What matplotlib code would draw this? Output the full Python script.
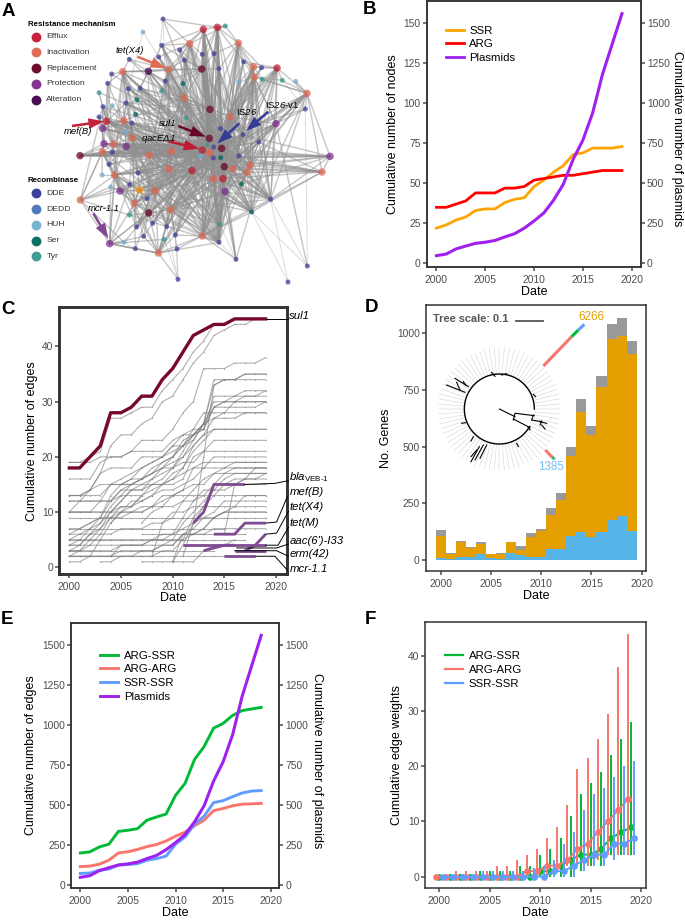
# Plasmid network figure, panels A-F
import numpy as np
import matplotlib
matplotlib.use("Agg")
import matplotlib.pyplot as plt
from matplotlib.patches import FancyArrowPatch

plt.rcParams['font.family'] = ['Liberation Sans', 'DejaVu Sans']
plt.rcParams['mathtext.fontset'] = 'custom'
plt.rcParams['mathtext.rm'] = 'Liberation Sans:italic'
plt.rcParams['mathtext.sf'] = 'Liberation Sans'
plt.rcParams['mathtext.it'] = 'Liberation Sans:italic'

FIG_W, FIG_H = 685, 924

years = list(range(2000, 2020))
tick_years = [2000, 2005, 2010, 2015, 2020]

# Panel B
nodes_ssr = [22, 24, 27, 29, 33, 34, 34, 38, 40, 41, 48, 52, 57, 61, 68, 69, 72, 72, 72, 73]
nodes_arg = [35, 35, 37, 39, 44, 44, 44, 47, 47, 48, 52, 53, 54, 55, 55, 56, 57, 58, 58, 58]
plasmids = [48, 58, 90, 108, 125, 132, 143, 165, 185, 220, 265, 315, 395, 495, 650, 770, 940, 1180, 1370, 1560]

# Panel D
genes_blue = [8, 5, 12, 13, 28, 8, 5, 32, 22, 15, 14, 50, 50, 104, 122, 103, 122, 176, 193, 130]
genes_orange_top = [105, 28, 78, 55, 72, 28, 28, 78, 45, 102, 128, 198, 263, 458, 655, 552, 763, 975, 990, 907]
genes_total = [132, 30, 85, 58, 78, 28, 30, 80, 60, 120, 138, 228, 295, 498, 710, 592, 810, 1040, 1068, 967]

# Panel E
edges_arg_ssr = [200, 207, 238, 255, 335, 342, 352, 405, 425, 443, 560, 635, 785, 865, 980, 1010, 1060, 1090, 1100, 1110]
edges_arg_arg = [115, 118, 130, 155, 200, 208, 222, 240, 253, 275, 305, 330, 370, 405, 465, 478, 495, 505, 507, 510]
edges_ssr_ssr = [72, 75, 92, 100, 125, 128, 133, 155, 165, 180, 255, 300, 380, 430, 515, 527, 552, 575, 587, 590]

# Panel F: median, low and high of the edge weights
w_arg_ssr = [0, 0, 0, 0, 0, 0, 0, 0, 0, 0, 1, 1, 2, 3, 4, 4, 5, 7, 8, 9]
w_arg_ssr_hi = [0, 0.5, 0.5, 0.5, 1, 1, 1, 1, 2, 2, 4, 5, 7, 11, 15, 17, 19, 22, 25, 28]
w_arg_ssr_lo = [0, 0, 0, 0, 0, 0, 0, 0, 0, 0, 0, 0, 0, 0, 1, 2, 2, 4, 4, 4]
w_arg_arg = [0, 0, 0, 0, 0, 0, 0, 0, 0, 1, 1, 2, 2, 3, 5, 6, 8, 10, 12, 14]
w_arg_arg_hi = [0, 0.5, 1, 1, 1, 1, 2, 2, 3, 4, 5, 7, 9, 13, 19.5, 21.5, 25, 29.5, 38, 44]
w_arg_arg_lo = [0, 0, 0, 0, 0, 0, 0, 0, 0, 0, 0, 0, 1, 2, 2, 2, 3, 4, 4, 4]
w_ssr_ssr = [0, 0, 0, 0, 0, 0, 0, 0, 0, 0, 0, 1, 1, 2, 3, 4, 4, 6, 6, 7]
w_ssr_ssr_hi = [0, 0, 0.5, 0.5, 1, 1, 1, 1, 1, 1.5, 2, 3, 6, 8, 12, 15, 16, 18, 20, 21]
w_ssr_ssr_lo = [0, 0, 0, 0, 0, 0, 0, 0, 0, 0, 0, 0, 0, 0, 1, 2, 2, 3, 4, 4]

# Panel C: highlighted genes as (first year, values)
sul1_edges = (2000, [18, 18, 20, 22, 28, 28, 29, 31, 31, 34, 36, 39, 42, 43, 44, 44, 45, 45, 45, 45])
purple_edges = [
    (2012, [8, 10, 15, 15, 15, 15]),
    (2014, [6, 6, 6, 8, 8, 8]),
    (2017, [3, 4, 6]),
    (2011, [4, 4, 4, 4, 4, 4, 4, 4, 4]),
    (2013, [3, 3.5, 4, 4]),
    (2016, [3, 3, 3, 3]),
    (2015, [2, 2, 2, 2]),
]
# Panel C: grey genes as (first year, values)
grey_edges = [
    (2000, [19, 19, 20, 21, 27, 27, 28, 29, 29, 32, 34, 36, 39, 41, 44, 44, 45, 45, 45, 45]),
    (2000, [13, 13, 14, 17, 22, 24, 24, 26, 27, 30, 31, 34, 37, 39, 42, 43, 44, 44, 45, 45]),
    (2000, [19, 19, 19, 20, 20, 20, 21, 23, 23, 23, 25, 28, 30, 36, 36, 36, 37, 37, 37, 38]),
    (2000, [16, 16, 16, 19, 20, 20, 21, 21, 21, 21, 23, 24, 24, 26, 33, 34, 34, 35, 35, 35]),
    (2000, [13, 13, 14, 17, 18, 18, 18, 20, 20, 20, 22, 22, 23, 26, 34, 34, 34, 34, 34, 34]),
    (2000, [10, 12, 14, 15, 15, 15, 16, 16, 17, 19, 20, 22, 24, 25, 31, 31, 31, 31, 31, 32]),
    (2000, [10, 10, 10, 12, 15, 16, 17, 18, 19, 20, 22, 24, 25, 25, 29, 30, 31, 32, 32, 32]),
    (2000, [6, 7, 8, 9, 13, 15, 16, 18, 19, 20, 21, 22, 24, 26, 30, 30, 30, 31, 31, 31]),
    (2000, [5, 6, 7, 8, 10, 12, 14, 15, 16, 18, 19, 20, 23, 26, 29, 30, 30, 30, 30, 30]),
    (2000, [4, 5, 7, 9, 12, 14, 15, 16, 17, 18, 20, 23, 24, 25, 29, 29, 29, 29, 29, 30]),
    (2000, [3, 4, 6, 8, 11, 13, 15, 16, 18, 19, 20, 22, 25, 28, 28, 28, 28, 28, 28, 28]),
    (2000, [3, 3, 5, 7, 10, 12, 14, 14, 16, 17, 18, 21, 24, 26, 27, 27, 27, 28, 28, 28]),
    (2000, [2, 3, 4, 6, 9, 10, 11, 13, 15, 16, 18, 20, 22, 24, 25, 25, 25, 25, 25, 25]),
    (2000, [2, 2, 2, 5, 8, 10, 12, 12, 13, 15, 16, 18, 21, 23, 25, 25, 25, 25, 25, 25]),
    (2000, [12, 12, 12, 12, 12, 14, 14, 14, 15, 15, 15, 16, 20, 21, 21, 21, 21, 21, 21, 21]),
    (2000, [10, 10, 10, 10, 10, 11, 11, 12, 13, 14, 14, 15, 16, 18, 20, 20, 20, 20, 20, 20]),
    (2000, [13, 13, 13, 13, 15, 15, 15, 15, 15, 15, 16, 17, 18, 19, 19, 19, 19, 19, 19, 19]),
    (2000, [7, 7, 8, 9, 9, 9, 10, 10, 11, 12, 13, 14, 18, 18, 18, 18, 18, 18, 18, 18]),
    (2000, [6, 6, 6, 6, 6, 7, 7, 7, 8, 8, 9, 12, 14, 16, 17, 18, 19, 19, 19, 19]),
    (2000, [5, 5, 5, 5, 5, 5, 5, 5, 5, 6, 6, 9, 12, 13, 15, 17, 18, 18, 18, 18]),
    (2000, [3, 3, 3, 3, 3, 4, 4, 4, 5, 5, 5, 8, 10, 12, 14, 16, 17, 17, 17, 17]),
    (2010, [1, 4, 8, 11, 15, 15, 16, 16, 16, 17]),
    (2000, [1, 1, 2, 2, 2, 2, 2, 2, 2, 3, 3, 5, 9, 11, 13, 15, 15, 16, 16, 16]),
    (2000, [2, 2, 2, 2, 2, 3, 3, 3, 3, 4, 4, 6, 6, 7, 9, 10, 11, 13, 13, 13]),
    (2000, [4, 4, 4, 4, 4, 4, 4, 4, 5, 5, 6, 7, 8, 9, 10, 12, 12, 12, 12, 12]),
    (2008, [2, 8, 10, 10, 11, 11, 11, 11, 11, 11, 11, 11]),
    (2000, [12, 12, 12, 12, 12, 13, 13, 13]),
    (2000, [10, 10, 10, 10, 10, 10, 10, 10, 11, 13, 13, 13, 13, 13, 13, 13, 13, 13, 13, 13]),
    (2000, [7, 7, 7, 7, 7, 7, 7, 7, 7, 7, 7, 7, 7, 7, 7, 7]),
    (2000, [5, 5, 5, 5, 5, 5, 5, 5, 5, 5, 5, 5, 5, 5, 5, 5, 5, 5]),
    (2007, [6, 6, 6, 6, 6, 6, 6, 6, 6, 6, 6]),
    (2007, [1, 1, 1, 1, 1, 1, 3, 4, 4, 5]),
    (2000, [2, 2, 2, 2, 2, 2, 2, 2, 2, 2, 2, 2, 2, 2, 2, 2]),
    (2000, [3, 3, 3, 3, 3, 3, 3, 3, 3, 3, 3, 3, 3, 3, 3]),
    (2014, [6, 6, 15, 16, 18, 18]),
    (2011, [2, 8, 20, 33, 34, 34, 35, 35, 35]),
    (2003, [1, 1, 2, 2, 3, 3, 4, 4, 6, 6, 6, 7, 7, 7, 7, 7, 7]),
    (2004, [2, 4, 4, 4, 4, 4, 5, 5, 6, 7, 9, 10, 10, 10, 10, 10]),
    (2010, [1, 6, 7, 9, 9, 10, 10, 10, 10, 10]),
    (2004, [8, 10, 10, 11, 11, 11, 11, 12, 12, 14, 14, 14, 15, 15, 15, 15]),
    (2000, [9, 9, 9, 9, 9, 9, 9, 9, 9, 9, 9, 9, 9, 9, 9, 9, 9, 9, 9, 9]),
    (2000, [4, 4, 6, 7, 9, 11, 11, 13, 14, 15, 17, 18, 22, 24, 27, 28, 30, 30, 30, 30]),
    (2005, [15, 15, 16, 17, 18, 18, 19, 19, 21, 23, 23, 23, 23, 23, 23]),
    (2007, [8, 10, 11, 13, 14, 15, 15, 17, 17, 17, 17, 17, 17]),
]

# Panel A: node layout
arg_x = [610, 652, 831, 320, 607, 576, 669, 569, 715, 760, 763, 506, 368, 921, 553, 691, 371, 397, 340, 307, 448, 514, 629, 507, 344, 465, 403, 512, 241, 607, 475, 966, 750, 741, 698, 641, 605, 630, 628, 665, 673, 446, 240, 990, 379, 675, 828, 329, 308, 312, 360, 445, 418]
arg_y = [88, 82, 204, 364, 450, 512, 536, 131, 129, 200, 231, 208, 215, 280, 294, 350, 362, 414, 432, 456, 465, 454, 458, 507, 525, 572, 610, 629, 600, 708, 759, 516, 496, 517, 506, 536, 207, 328, 415, 445, 500, 639, 467, 469, 440, 575, 371, 731, 385, 431, 573, 214, 570]
arg_kind = ['E'] * 7 + ['I'] * 29 + ['R'] * 7 + ['P'] * 8 + ['A', 'O']
ssr_x = [489, 485, 539, 476, 388, 607, 642, 553, 731, 657, 785, 335, 496, 323, 385, 420, 378, 309, 297, 396, 916, 729, 777, 641, 662, 640, 717, 337, 327, 414, 389, 441, 812, 458, 410, 431, 500, 526, 531, 406, 657, 708, 922, 864, 534, 429, 337, 718, 887, 376, 601, 306, 332, 372, 549, 411, 407, 662, 725, 755, 676, 297, 485, 558, 622, 787, 847, 388, 659, 493]
ssr_y = [57, 136, 150, 171, 178, 163, 161, 180, 185, 206, 203, 222, 243, 250, 266, 265, 309, 320, 351, 369, 327, 404, 426, 441, 386, 474, 468, 457, 493, 519, 553, 596, 598, 670, 681, 709, 680, 705, 747, 746, 727, 778, 798, 846, 838, 96, 317, 246, 244, 394, 469, 525, 561, 727, 251, 299, 343, 473, 552, 636, 78, 278, 272, 354, 434, 238, 241, 645, 673, 718]
ssr_kind = ['D'] * 45 + ['H'] * 9 + ['S'] * 6 + ['T'] * 10

# ssr nodes linked to each arg node, same order as arg_x
arg_links = [
    [1, 5, 6, 9, 23, 21, 24, 25, 57, 64, 60, 40, 2, 68],
    [5, 6, 60, 9, 23, 24, 25, 57, 21, 50, 68, 40, 64, 8, 0],
    [8, 10, 65, 66, 21, 23, 24, 57, 32, 59, 22, 26],
    [11, 13, 16, 17, 18, 19, 23, 24, 25, 27, 57, 64, 61, 49, 58],
    [1, 3, 5, 9, 14, 16, 21, 23, 24, 26, 28, 29, 31, 32, 33, 36, 40, 59, 64, 68, 57, 22, 12, 19],
    [2, 7, 12, 15, 21, 23, 25, 26, 32, 34, 37, 40, 57, 59, 64, 68, 29],
    [5, 8, 21, 22, 23, 24, 32, 40, 41, 57, 59, 64, 65, 68, 12, 55],
    [1, 2, 3, 5, 7, 23, 24, 25, 57, 21, 12, 40, 0, 60],
    [6, 8, 9, 60, 21, 23, 24, 57, 26, 10, 68, 32],
    [8, 10, 21, 22, 23, 24, 25, 57, 47, 65, 59, 32],
    [8, 10, 47, 21, 22, 23, 25, 57, 58, 66, 32, 40],
    [1, 3, 4, 7, 12, 62, 23, 25, 57, 64, 31, 36, 40],
    [4, 11, 13, 14, 15, 16, 23, 25, 64, 57, 29, 40],
    [20, 21, 22, 48, 66, 65, 32, 59, 26, 25, 57, 64],
    [3, 7, 12, 15, 16, 23, 24, 25, 29, 32, 36, 40, 54, 62, 59],
    [8, 9, 21, 22, 23, 24, 26, 32, 40, 47, 58, 59, 68, 37],
    [13, 14, 16, 17, 19, 46, 23, 25, 57, 27, 29, 36, 40, 64],
    [14, 16, 19, 28, 29, 30, 23, 25, 57, 40, 36, 31, 64, 68],
    [13, 17, 18, 27, 28, 23, 25, 57, 64, 19, 59, 40],
    [17, 27, 28, 51, 23, 25, 50, 57, 64, 40, 30],
    [15, 19, 29, 31, 23, 25, 57, 40, 36, 12, 59, 68, 21],
    [7, 12, 16, 23, 25, 29, 31, 36, 40, 57, 59, 68, 21, 32, 34],
    [1, 3, 5, 7, 9, 14, 16, 21, 24, 26, 32, 36, 40, 59, 68, 37, 29, 15, 12, 33],
    [15, 19, 29, 30, 31, 34, 23, 25, 57, 40, 59, 68, 21],
    [28, 30, 51, 52, 29, 23, 25, 57, 40, 64, 34],
    [29, 30, 31, 33, 34, 36, 23, 25, 57, 40, 68, 59, 21],
    [30, 31, 34, 35, 39, 23, 25, 57, 64, 40, 67, 19],
    [33, 36, 37, 38, 40, 68, 23, 25, 57, 64, 21, 32],
    [52, 17, 40, 30, 53],
    [37, 38, 40, 41, 68, 23, 25, 57, 64, 21, 32, 59],
    [35, 36, 37, 38, 69, 39, 23, 25, 57, 40, 44],
    [26, 57, 25, 32, 21, 59],
    [21, 22, 26, 32, 58, 59, 23, 25, 57, 9, 47],
    [21, 22, 26, 32, 58, 59, 23, 25, 57, 40, 68],
    [21, 22, 24, 26, 32, 40, 58, 59, 68, 9, 1],
    [5, 15, 21, 23, 25, 32, 37, 40, 59, 68, 29, 34],
    [2, 5, 6, 7, 9, 1, 23, 24, 25, 57, 21, 40, 12, 54],
    [2, 7, 9, 14, 15, 16, 21, 24, 26, 32, 40, 54, 56, 63, 59, 68, 29],
    [0, 1, 2, 3, 4, 5, 6, 7, 8, 9, 10, 11, 12, 13, 14, 15, 16, 17, 18, 19, 20, 26, 27, 28, 29, 30, 31, 32, 33, 34, 35, 36, 37, 40, 41, 59, 61, 65, 67, 68],
    [1, 5, 8, 10, 12, 14, 21, 22, 24, 26, 32, 40, 41, 47, 59, 68, 29, 36, 16],
    [7, 9, 21, 22, 24, 26, 32, 37, 40, 58, 59, 68, 15],
    [31, 33, 34, 35, 36, 39, 67, 23, 25, 57, 53],
    [27, 23, 25, 50, 57, 64],
    [26, 57, 25, 21, 32, 58],
    [17, 19, 27, 49, 23, 25, 57, 64, 40, 29],
    [21, 23, 25, 32, 40, 41, 57, 59, 68, 26],
    [20, 21, 22, 26, 32, 59, 41, 42, 25, 57],
    [30, 35, 39, 53, 52, 69],
    [18, 19, 46, 17, 23, 25, 57],
    [18, 27, 13, 23, 25, 57, 64],
    [28, 30, 52, 31, 23, 57],
    [1, 4, 12, 15, 23, 25, 57, 64, 40],
    [29, 30, 31, 23, 25, 57],
]
# arg nodes linked to each arg node
arg_peers = [
    [7, 36, 14, 38, 22, 35, 29, 6], [8, 36, 37, 15, 39, 40, 6, 45], [9, 13, 46, 15, 39, 34, 33],
    [16, 48, 18, 20, 17, 4, 21, 5], [14, 20, 21, 23, 25, 27, 29, 35, 37], [20, 23, 25, 27, 29, 41, 37, 14, 45],
    [29, 45, 40, 34, 33, 15, 37, 27], [11, 36, 14, 37, 21, 23, 5], [9, 10, 15, 37, 39, 40, 34],
    [10, 15, 39, 40, 33, 32, 22], [13, 46, 15, 39, 34, 32, 35], [51, 12, 14, 20, 21, 23, 25, 4],
    [51, 16, 17, 20, 18, 24, 25, 23, 14], [46, 32, 33, 34, 39, 31, 43], [37, 15, 21, 20, 23, 35, 5, 16, 27],
    [37, 39, 40, 34, 35, 6, 22, 45], [17, 18, 44, 20, 21, 24, 25, 23, 4], [18, 44, 20, 21, 23, 25, 26, 5],
    [19, 49, 42, 24, 20, 21, 25, 50], [49, 42, 24, 50, 20, 23, 26, 28], [21, 23, 25, 26, 27, 41, 5, 4, 22],
    [23, 25, 5, 27, 4, 22, 35, 41], [39, 40, 35, 6, 34, 5, 23, 45, 27], [25, 5, 27, 41, 35, 29, 26, 24],
    [50, 26, 41, 25, 52, 47, 30], [26, 52, 41, 27, 5, 35, 29, 30], [41, 52, 27, 30, 47, 50], [41, 29, 30, 35, 6, 45],
    [47, 24, 50, 19], [30, 45, 35, 6, 41], [41, 27, 47], [43, 33, 32, 34, 40, 6, 22], [33, 34, 40, 39, 45, 46],
    [34, 40, 6, 45, 35], [40, 6, 39, 35, 45, 22], [6, 45, 40, 5, 27, 29], [37, 14, 15, 38, 39, 51, 11],
    [38, 39, 22, 4, 21, 14, 40], [39, 22, 4, 40, 21, 5], [40, 22, 4, 34, 46], [6, 45, 35, 5], [52, 26, 27, 47],
    [19, 49, 4, 22, 21, 20, 39], [39, 22, 4, 40, 34], [20, 21, 24, 25, 4, 5], [6, 29, 27, 35], [15, 39, 40, 34, 10],
    [41, 30, 24], [49, 16, 17, 18, 20, 4], [18, 19, 44, 21, 20, 4], [24, 26, 52, 25, 23], [12, 14, 16, 20, 37, 21],
    [25, 26, 23, 41],
]
# extra links between ssr nodes
ssr_links = [(0, 12), (0, 3), (45, 14), (45, 3), (41, 68), (41, 40), (43, 59), (42, 59), (44, 38), (44, 37), (44, 36), (44, 69), (20, 48), (20, 66), (18, 17), (61, 17), (53, 39), (67, 31), (32, 59), (32, 68), (40, 68), (22, 21), (43, 32), (42, 32), (42, 20)]

legend_mech = ['Efflux', 'Inactivation', 'Replacement', 'Protection', 'Alteration']
legend_mech_colors = ['#c2152f', '#e0654f', '#67001f', '#7b2a8c', '#40004b']
legend_rec = ['DDE', 'DEDD', 'HUH', 'Ser', 'Tyr']
legend_rec_colors = ['#313695', '#4575b4', '#74add1', '#00665e', '#35978f']
arg_colors = {'E': '#c2152f', 'I': '#e0654f', 'R': '#67001f', 'P': '#7b2a8c', 'A': '#40004b', 'O': '#f58a0b'}
ssr_colors = {'D': '#3d4199', 'H': '#74add1', 'S': '#00665e', 'T': '#35978f'}

# (label, text x, text y, tail x, tail y, head x, head y, colour)
gene_arrows = [
    ('tet(X4)', 388, 152, 412, 170, 498, 205, '#e0654f'),
    ('mef(B)', 233, 396, 216, 378, 312, 364, '#c2152f'),
    ('sul1', 503, 371, 535, 378, 617, 410, '#67001f'),
    (r'$\mathrm{qacE}$Δ1', 475, 418, 505, 424, 598, 446, '#c2152f'),
    (r'IS$\mathrm{26}$', 740, 337, 718, 370, 652, 431, '#313695'),
    (r'IS$\mathrm{26}$-v1', 846, 315, 805, 335, 738, 393, '#313695'),
    ('mcr-1.1', 311, 625, 280, 640, 325, 716, '#7b3f8c'),
]

# Panel D tree inset, (x0, y0, x1, y1)
TREE_CENTER = (463, 342)
TREE_TIPS = 76
tree_branches = [
    (463, 342, 510, 365), (510, 355, 505, 375), (512, 355, 568, 362), (505, 372, 555, 398),
    (565, 360, 560, 375), (560, 375, 590, 380), (590, 378, 585, 390), (585, 380, 605, 385),
    (590, 390, 600, 402), (548, 395, 555, 405), (360, 292, 305, 270), (345, 285, 335, 262),
    (330, 250, 370, 275), (355, 260, 362, 270), (378, 500, 403, 455), (390, 495, 415, 450),
    (378, 485, 395, 465), (405, 490, 425, 450), (565, 298, 572, 305), (385, 425, 378, 438),
    (440, 232, 450, 244), (350, 385, 362, 383), (515, 445, 520, 455), (470, 240, 485, 236),
]
long_bars = [
    (595, 213, 680, 125, '#f8766d'), (680, 125, 700, 105, '#00ba38'), (700, 105, 718, 88, '#619cff'),
    (601, 465, 622, 487, '#f8766d'), (622, 487, 626, 490, '#00ba38'), (626, 490, 630, 493, '#619cff'),
]


def px_axes(left, top, right, bottom):
    # axes placed by picture pixels
    ax = plt.gcf().add_axes([left / FIG_W, 1 - bottom / FIG_H, (right - left) / FIG_W, (bottom - top) / FIG_H])
    ax.px_box = (left, top, right, bottom)
    return ax


def style_axes(ax, ylabel, ylabel_x, date_y, frame=1.1, xlim=None, ylim=None):
    left, top, right, bottom = ax.px_box
    ax.set_xlim(xlim)
    ax.set_ylim(ylim)
    ax.set_xticks(tick_years)
    for side in ax.spines.values():
        side.set_linewidth(frame)
        side.set_color('#333333')
    ax.tick_params(colors='#4d4d4d', labelsize=7.4, width=1.1, length=2.6, pad=1.6)
    ax.tick_params(axis='x', pad=3.2)
    ax.set_xlabel('Date', fontsize=9, va='center')
    ax.xaxis.set_label_coords(0.5, -(date_y - bottom) / (bottom - top))
    ax.set_ylabel(ylabel, fontsize=9, va='center')
    ax.yaxis.set_label_coords((ylabel_x - left) / (right - left), 0.5)


def add_plasmid_axis(ax, ylim, label_x):
    left, top, right, bottom = ax.px_box
    twin = ax.twinx()
    twin.set_ylim(ylim)
    twin.set_yticks([0, 250, 500, 750, 1000, 1250, 1500])
    twin.tick_params(colors='#4d4d4d', labelsize=7.4, width=1.1, length=2.6, pad=1.6)
    twin.set_ylabel('Cumulative number of plasmids', fontsize=9, rotation=270, va='center')
    twin.yaxis.set_label_coords((label_x - left) / (right - left), 0.48)
    for side in twin.spines.values():
        side.set_linewidth(1.1)
        side.set_color('#333333')
    return twin


def line_legend(ax, handles, anchor):
    ax.legend(handles=handles, loc='upper left', bbox_to_anchor=anchor, frameon=False, fontsize=8.2,
              handlelength=1.6, handletextpad=0.5, labelspacing=0.33, borderpad=0, borderaxespad=0)


fig = plt.figure(figsize=(FIG_W / 100, FIG_H / 100), dpi=100)

# Panel A: network, coordinates are 3x picture pixels
ax_a = px_axes(0, 0, 345, 295)
ax_a.set_xlim(0, 1035)
ax_a.set_ylim(885, 0)
ax_a.axis('off')
for a, links in enumerate(arg_links):
    for s in links:
        ax_a.plot([arg_x[a], ssr_x[s]], [arg_y[a], ssr_y[s]], color='#8f8f8f', lw=1.0, alpha=0.5, zorder=1)
for a, peers in enumerate(arg_peers):
    for b in peers:
        ax_a.plot([arg_x[a], arg_x[b]], [arg_y[a], arg_y[b]], color='#8f8f8f', lw=1.0, alpha=0.5, zorder=1)
for s0, s1 in ssr_links:
    ax_a.plot([ssr_x[s0], ssr_x[s1]], [ssr_y[s0], ssr_y[s1]], color='#8f8f8f', lw=0.7, alpha=0.32, zorder=1)
ax_a.scatter(ssr_x, ssr_y, s=13, c=[ssr_colors[k] for k in ssr_kind], alpha=0.75, linewidths=0, zorder=2)
ax_a.scatter(arg_x, arg_y, s=29, c=[arg_colors[k] for k in arg_kind], alpha=0.72, linewidths=0, zorder=3)
ax_a.text(83, 74, 'Resistance mechanism', fontsize=5.7, fontweight='bold', va='center')
for i, label in enumerate(legend_mech):
    ax_a.scatter(108, 110 + i * 47.2, s=50, c=legend_mech_colors[i], alpha=0.95, linewidths=0)
    ax_a.text(138, 110 + i * 47.2, label, fontsize=6.1, color='#333333', va='center')
ax_a.text(83, 541, 'Recombinase', fontsize=5.7, fontweight='bold', va='center')
for i, label in enumerate(legend_rec):
    ax_a.scatter(108, 580 + i * 47.2, s=50, c=legend_rec_colors[i], alpha=0.95, linewidths=0)
    ax_a.text(140, 580 + i * 47.2, label, fontsize=6.1, color='#333333', va='center')
for label, tx, ty, x0, y0, x1, y1, color in gene_arrows:
    style = 'normal' if label.startswith('IS') else 'italic'
    ax_a.text(tx, ty, label, fontsize=6.8, style=style, ha='center', va='center', zorder=6)
    ax_a.add_patch(FancyArrowPatch((x0, y0), (x1, y1), arrowstyle='simple,tail_width=0.13,head_width=0.55,head_length=0.8',
                                   mutation_scale=14, color=color, lw=0, alpha=0.95, shrinkA=0, shrinkB=0, zorder=5))

# Panel B
ax_b = px_axes(426.7, 1, 641, 266.7)
ax_b.plot(years, nodes_ssr, color='#ffa500', lw=2, solid_joinstyle='round')
ax_b.plot(years, nodes_arg, color='#ff0000', lw=2)
style_axes(ax_b, 'Cumulative number of nodes', 393, 292, xlim=(1999.0, 2020.95), ylim=(-2.1, 163.9))
ax_b.set_yticks([0, 25, 50, 75, 100, 125, 150])
right_b = add_plasmid_axis(ax_b, (-21, 1639), 677)
right_b.plot(years, plasmids, color='#a020f0', lw=2.2)
line_legend(ax_b, [
    plt.Line2D([], [], color='#ffa500', lw=2, label='SSR'),
    plt.Line2D([], [], color='#ff0000', lw=2, label='ARG'),
    plt.Line2D([], [], color='#a020f0', lw=2, label='Plasmids')], (0.088, 0.907))

# Panel C
ax_c = px_axes(59, 307.3, 286.7, 574.3)
for first, values in grey_edges:
    xs = np.arange(first, first + len(values))
    ax_c.plot(xs, values, color='#7c7c7c', lw=0.8, alpha=0.6, marker='o', ms=0.9, mew=0, zorder=2)
for first, values in purple_edges:
    ax_c.plot(np.arange(first, first + len(values)), values, color='#7f4a8f', lw=2, zorder=3, solid_capstyle='butt')
ax_c.plot(np.arange(sul1_edges[0], sul1_edges[0] + len(sul1_edges[1])), sul1_edges[1], color='#76092b', lw=2.4, zorder=4)
style_axes(ax_c, 'Cumulative number of edges', 32, 598, frame=2.1, xlim=(1999.0, 2021.04), ylim=(-1.27, 47.1))
ax_c.set_yticks([0, 10, 20, 30, 40])
leader_labels = ['sul1', '$\\mathrm{bla}_{\\mathsf{VEB\u20101}}$', 'mef(B)', 'tet(X4)', 'tet(M)', "aac(6')-I33", 'erm(42)', 'mcr-1.1']
leader_x = [[2019, 2021.2], [2017, 2019.9, 2021.2], [2019, 2020.06, 2021.1], [2019, 2020.06, 2021.2], [2019, 2020.2, 2021.2],
            [2016.2, 2020.06, 2021.2], [2016, 2020.06, 2021.2], [2018, 2019.9, 2021.1]]
leader_y = [[45, 45], [15, 15.2, 15.7], [8, 8.2, 12.8], [6, 6.2, 10.1], [4, 4, 7.2], [3.5, 3.5, 4.2], [3, 3, 2], [2, 2, -0.5]]
label_y = [45.6, 16.25, 13.6, 10.9, 8, 4.8, 2.4, -0.3]
for label, lx, ly, ty in zip(leader_labels, leader_x, leader_y, label_y):
    ax_c.plot(lx, ly, color='black', lw=0.7, clip_on=False, zorder=5)
    ax_c.text(2021.3, ty, label, fontsize=8.2, style='italic', va='center', clip_on=False)

# Panel D
ax_d = px_axes(425.7, 305, 646, 571)
ax_d.bar(years, genes_blue, width=1, color='#56b4e9')
ax_d.bar(years, np.array(genes_orange_top) - np.array(genes_blue), width=1, bottom=genes_blue, color='#e69f00')
ax_d.bar(years, np.array(genes_total) - np.array(genes_orange_top), width=1, bottom=genes_orange_top, color='#999999')
style_axes(ax_d, 'No. Genes', 386, 596, xlim=(1998.5, 2020.43), ylim=(-48.5, 1125))
ax_d.set_yticks([0, 250, 500, 750, 1000])

# tree inset, coordinates are 3x picture pixels
ax_t = px_axes(345, 295, 685, 615)
ax_t.set_xlim(0, 1020)
ax_t.set_ylim(960, 0)
ax_t.axis('off')
ax_t.patch.set_alpha(0)
tip_angles = np.deg2rad(np.arange(TREE_TIPS) * 360 / TREE_TIPS)
for ang in tip_angles:
    ax_t.plot([TREE_CENTER[0] + 107 * np.cos(ang), TREE_CENTER[0] + 184 * np.cos(ang)],
              [TREE_CENTER[1] - 107 * np.sin(ang), TREE_CENTER[1] - 184 * np.sin(ang)],
              color='#bbbbbb', lw=0.35, ls=(0, (1.5, 0.6)))
arc = np.deg2rad(np.arange(0, 331, 2))
ax_t.plot(TREE_CENTER[0] + 105 * np.cos(arc), TREE_CENTER[1] - 105 * np.sin(arc), color='black', lw=1.0)
for x0, y0, x1, y1 in tree_branches:
    ax_t.plot([x0, x1], [y0, y1], color='black', lw=0.8)
for x0, y0, x1, y1, color in long_bars:
    ax_t.plot([x0, x1], [y0, y1], color=color, lw=2.2, solid_capstyle='butt')
ax_t.text(740, 66, '6266', color='#e69f00', fontsize=8.4, ha='center', va='center')
ax_t.text(618, 517, '1385', color='#74c0ee', fontsize=8.4, ha='center', va='center')
ax_t.text(265, 72, 'Tree scale: 0.1', color='#555555', fontsize=7.9, fontweight='bold', va='center')
ax_t.plot([513, 593], [77, 77], color='#555555', lw=1.3)

# Panel E
ax_e = px_axes(71.3, 622.7, 279.3, 888.3)
style_axes(ax_e, 'Cumulative number of edges', 31, 913, xlim=(1999.05, 2020.9), ylim=(-20.6, 1639))
ax_e.plot(years, edges_arg_ssr, color='#00ba38', lw=2.1, label='ARG-SSR')
ax_e.plot(years, edges_arg_arg, color='#f8766d', lw=2.1, label='ARG-ARG')
ax_e.plot(years, edges_ssr_ssr, color='#619cff', lw=2.1, label='SSR-SSR')
ax_e.set_yticks([0, 250, 500, 750, 1000, 1250, 1500])
right_e = add_plasmid_axis(ax_e, (-20.6, 1639), 317)
right_e.plot(years, plasmids, color='#a020f0', lw=2.2)
line_legend(ax_e, ax_e.lines[:3] + [plt.Line2D([], [], color='#a020f0', lw=2.1, label='Plasmids')], (0.137, 0.895))

# Panel F
ax_f = px_axes(425, 622, 645.7, 888.3)
style_axes(ax_f, 'Cumulative edge weights', 397, 913, xlim=(1998.6, 2020.46), ylim=(-2.1, 46.1))
weight_series = [
    ('ARG-SSR', w_arg_ssr, w_arg_ssr_lo, w_arg_ssr_hi, '#00ba38', 0.03),
    ('ARG-ARG', w_arg_arg, w_arg_arg_lo, w_arg_arg_hi, '#f8766d', -0.3),
    ('SSR-SSR', w_ssr_ssr, w_ssr_ssr_lo, w_ssr_ssr_hi, '#619cff', 0.35),
]
for label, mid, lo, hi, color, dodge in weight_series:
    xs = np.array(years) + dodge
    ax_f.vlines(xs, lo, hi, color=color, lw=1.4)
    ax_f.plot(xs, mid, color=color, lw=1.4, marker='o', ms=4.8, mew=0, label=label)
ax_f.set_yticks([0, 10, 20, 30, 40])
ax_f.legend(handles=[plt.Line2D([], [], color=s[4], lw=1.6, label=s[0]) for s in weight_series], loc='upper left',
            bbox_to_anchor=(0.09, 0.89), frameon=False, fontsize=8.2, handlelength=1.6, handletextpad=0.5,
            labelspacing=0.33, borderpad=0, borderaxespad=0)

# Panel letters
panel_letters = ['A', 'B', 'C', 'D', 'E', 'F']
letter_x = [8, 370, 8, 371, 7, 370]
letter_y = [12, 10, 309, 308, 620, 620]
for letter, lx, ly in zip(panel_letters, letter_x, letter_y):
    fig.text(lx / FIG_W, 1 - ly / FIG_H, letter, fontsize=13.5, fontweight='bold', ha='center', va='center')

fig.savefig('out.png', dpi=100)
